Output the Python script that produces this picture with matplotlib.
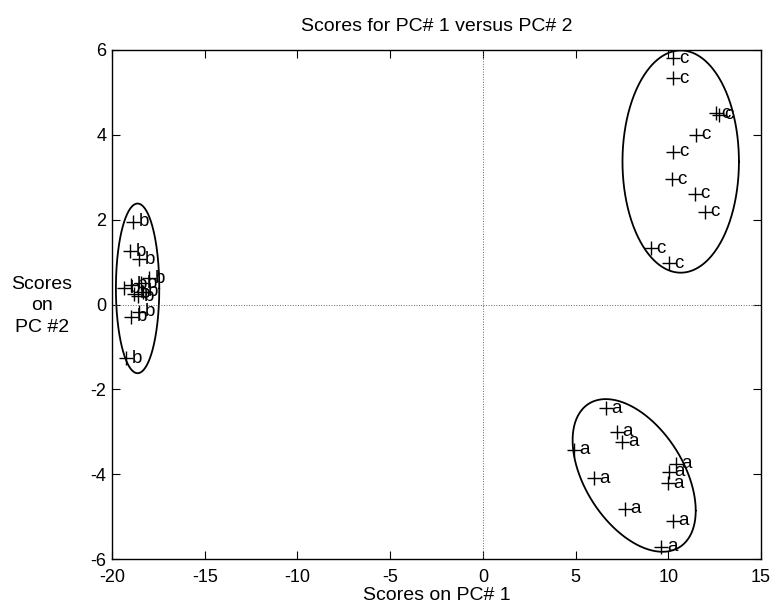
import matplotlib.pyplot as plt
import numpy as np

plt.rcParams['font.family'] = ['Liberation Sans', 'DejaVu Sans']
plt.rcParams['axes.unicode_minus'] = False

# scores on PC1 / PC2, per class
a_x = [6.63, 7.22, 7.53, 4.92, 5.97, 10.40, 10.04, 9.96, 7.65, 10.23, 9.63]
a_y = [-2.45, -3.00, -3.24, -3.43, -4.10, -3.75, -3.94, -4.22, -4.81, -5.10, -5.71]

b_x = [-18.88, -19.01, -18.53, -17.99, -18.44, -18.98, -19.34, -18.80, -18.35,
       -18.61, -18.53, -18.98, -19.25]
b_y = [1.95, 1.25, 1.07, 0.62, 0.50, 0.46, 0.38, 0.25, 0.30, 0.20, -0.17, -0.29, -1.27]

c_x = [10.28, 10.28, 12.56, 12.74, 11.48, 10.28, 10.19, 11.44, 11.98, 9.06, 10.04]
c_y = [5.81, 5.33, 4.51, 4.47, 4.00, 3.60, 2.95, 2.61, 2.19, 1.33, 0.97]

# ellipses: centre x, centre y, x radius, y radius, phase
ell_a = (8.16, -4.03, 3.32, 1.80, 2.05)
ell_b = (-18.62, 0.38, 1.17, 2.00, np.pi / 2)
ell_c = (10.67, 3.37, 3.14, 2.62, np.pi / 2)

fig = plt.figure(figsize=(7.73, 6.10), dpi=100)
ax = fig.add_axes([112 / 773, 1 - 559 / 610, (761 - 112) / 773, (559 - 50) / 610])

t = np.linspace(0, 2 * np.pi, 300)
for (cx, cy, rx, ry, ph) in [ell_a, ell_b, ell_c]:
    ax.plot(cx + rx * np.cos(t), cy + ry * np.cos(t + ph), 'k-', lw=1.3,
            solid_joinstyle='round', solid_capstyle='round')

for xs, ys, lab in [(a_x, a_y, 'a'), (b_x, b_y, 'b'), (c_x, c_y, 'c')]:
    ax.plot(xs, ys, 'k+', ms=10, mew=1.0)
    for x, y in zip(xs, ys):
        ax.annotate(lab, (x, y), xytext=(4, 0), textcoords='offset points',
                    va='center', ha='left', fontsize=13.5)

ax.axhline(0, color='0.4', lw=0.7, ls=':')
ax.axvline(0, color='0.4', lw=0.7, ls=':')

ax.set_xlim(-20, 15)
ax.set_ylim(-6, 6)
ax.set_xticks(np.arange(-20, 16, 5))
ax.set_yticks(np.arange(-6, 7, 2))
ax.tick_params(direction='in', top=True, right=True, length=6, labelsize=13)
ax.tick_params(axis='x', pad=7)
ax.tick_params(axis='y', pad=4)
for s in ax.spines.values():
    s.set_linewidth(1.0)

ax.set_title('Scores for PC# 1 versus PC# 2', fontsize=14, pad=14)
ax.set_xlabel('Scores on PC# 1', fontsize=14, labelpad=1)
fig.text(42 / 773, 1 - 306 / 610, 'Scores\non\nPC #2', ha='center', va='center',
         fontsize=14, linespacing=1.35)

fig.savefig('out.png', dpi=100)
